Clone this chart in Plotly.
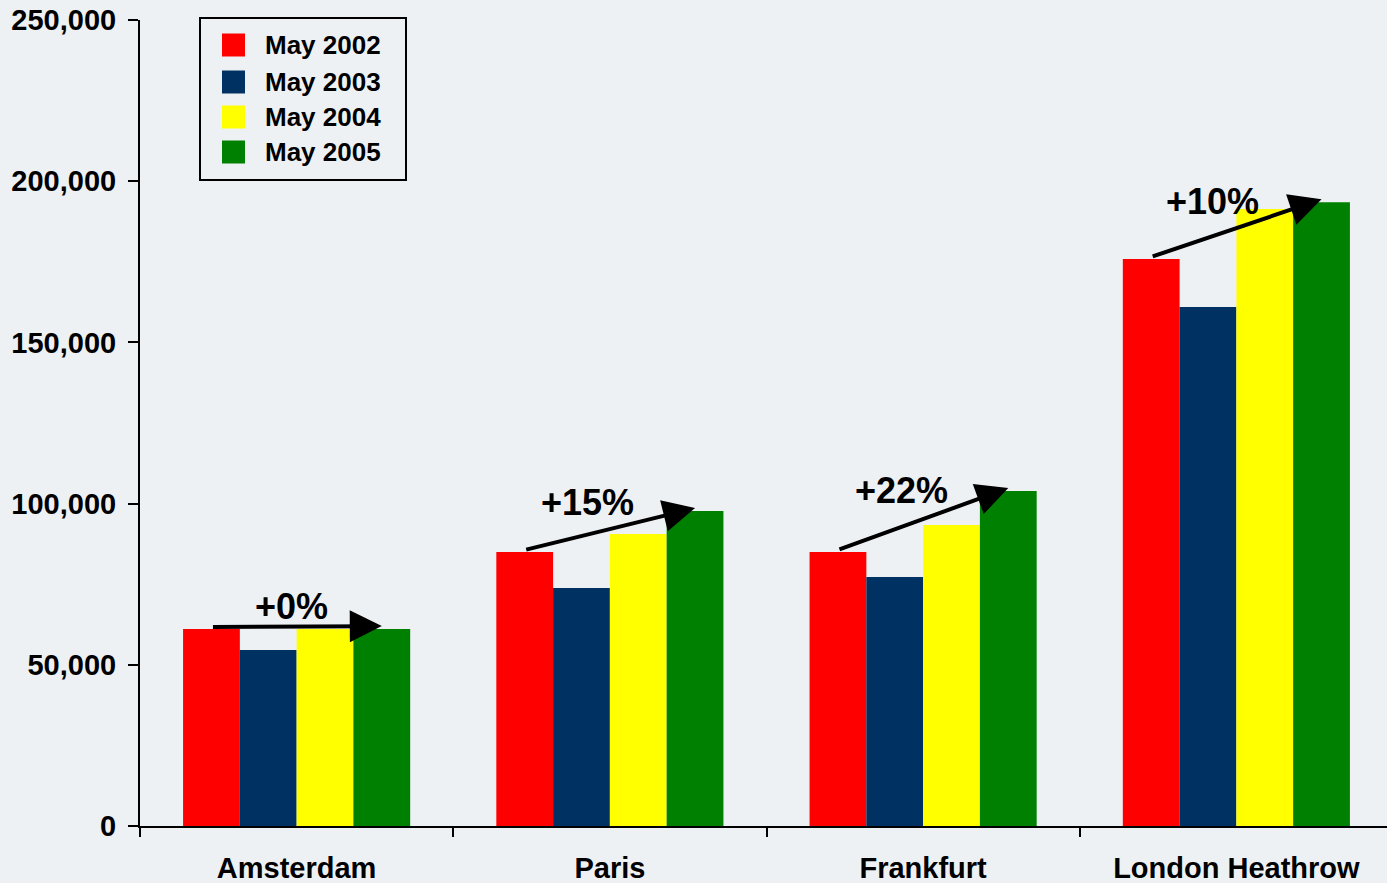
import plotly.graph_objects as go

airports = ["Amsterdam", "Paris", "Frankfurt", "London Heathrow"]
series_names = ["May 2002", "May 2003", "May 2004", "May 2005"]
may_2002 = [61100, 85000, 85000, 175900]
may_2003 = [54600, 73800, 77200, 161000]
may_2004 = [61100, 90600, 93400, 191400]
may_2005 = [61100, 97700, 103900, 193500]
growth_labels = ["+0%", "+15%", "+22%", "+10%"]
y_ticks = [0, 50000, 100000, 150000, 200000, 250000]

colors = ["#ff0000", "#003163", "#ffff00", "#008000"]
series = [may_2002, may_2003, may_2004, may_2005]

BG = "#eef1f4"
FONT = "Liberation Sans"
BARGAP = 0.275
LABEL_DX = [-0.015, -0.07, -0.07, -0.075]   # style: label shift (category units)
LABEL_DY = [6300, 8300, 8800, 8300]          # style: label lift above arrow

fig = go.Figure()
for name, vals, col in zip(series_names, series, colors):
    fig.add_trace(go.Bar(x=airports, y=vals, name=name,
                         marker=dict(color=col, line=dict(width=0)),
                         showlegend=False))

# bar geometry (category units) for arrows
w = (1 - BARGAP) / 4
annotations = []
shapes = []
for i, lab in enumerate(growth_labels):
    x_tail = i - 1.5 * w
    x_head = i + 1.5 * w
    y_tail = may_2002[i] + 600
    y_head = may_2005[i] + 900
    annotations.append(dict(x=x_head, y=y_head, ax=x_tail, ay=y_tail,
                            xref="x", yref="y", axref="x", ayref="y",
                            text="", showarrow=True, arrowhead=2,
                            arrowsize=1.6, arrowwidth=4, arrowcolor="black"))
    annotations.append(dict(x=i + LABEL_DX[i], y=(y_tail + y_head) / 2 + LABEL_DY[i],
                            xref="x", yref="y", text="<b>%s</b>" % lab,
                            showarrow=False,
                            font=dict(family=FONT, size=36, color="black")))

# manual legend (large square swatches)
lx0, lx1, ly0, ly1 = 200, 406, 18, 180  # pixel box
W, H = 1387, 883
ml, mt, mb, mr = 140, 20, 57, 0
pw, ph = W - ml - mr, H - mt - mb


def px(xp):
    return (xp - ml) / pw


def py(yp):
    return 1 - (yp - mt) / ph


shapes.append(dict(type="rect", xref="paper", yref="paper",
                   x0=px(lx0), x1=px(lx1), y0=py(ly1), y1=py(ly0),
                   line=dict(color="black", width=2), fillcolor=BG, layer="above"))
item_y = [45, 82, 117, 152]
for name, col, yc in zip(series_names, colors, item_y):
    shapes.append(dict(type="rect", xref="paper", yref="paper",
                       x0=px(222), x1=px(245), y0=py(yc + 11.5), y1=py(yc - 11.5),
                       line=dict(width=0), fillcolor=col, layer="above"))
    annotations.append(dict(x=px(263), y=py(yc), xref="paper", yref="paper",
                            xanchor="left", yanchor="middle", showarrow=False,
                            text="<b>%s</b>" % name,
                            font=dict(family=FONT, size=26, color="black")))

fig.update_layout(
    width=W, height=H,
    margin=dict(l=ml, r=mr, t=mt, b=mb, pad=0),
    paper_bgcolor=BG, plot_bgcolor=BG,
    barmode="group", bargap=BARGAP, bargroupgap=0,
    font=dict(family=FONT, color="black"),
    annotations=annotations, shapes=shapes,
    showlegend=False,
)
fig.update_xaxes(
    type="category",
    tickmode="array", tickvals=airports,
    ticktext=["<b>%s</b>" % a for a in airports],
    tickson="boundaries", ticks="outside", ticklen=9, tickwidth=2,
    tickcolor="black", showline=True, linecolor="black", linewidth=2,
    showgrid=False, zeroline=False,
    range=[-0.5, 3.5 - 6 / 313],
    tickfont=dict(family=FONT, size=29, color="black"),
    ticklabelstandoff=15,
)
fig.update_yaxes(
    range=[0, 250000], tickvals=y_ticks,
    ticktext=["<b>{:,}</b>".format(v) for v in y_ticks],
    ticks="outside", ticklen=10, tickwidth=2, tickcolor="black",
    showline=True, linecolor="black", linewidth=2, showgrid=False,
    zeroline=False, tickfont=dict(family=FONT, size=29, color="black"),
    ticklabelstandoff=6,
)

fig.write_html(
    "out.html",
    config={"displayModeBar": False},
    post_script=("document.body.style.margin='0';"
                 "document.body.style.overflow='hidden';"
                 "document.body.style.background='%s';" % BG),
)
